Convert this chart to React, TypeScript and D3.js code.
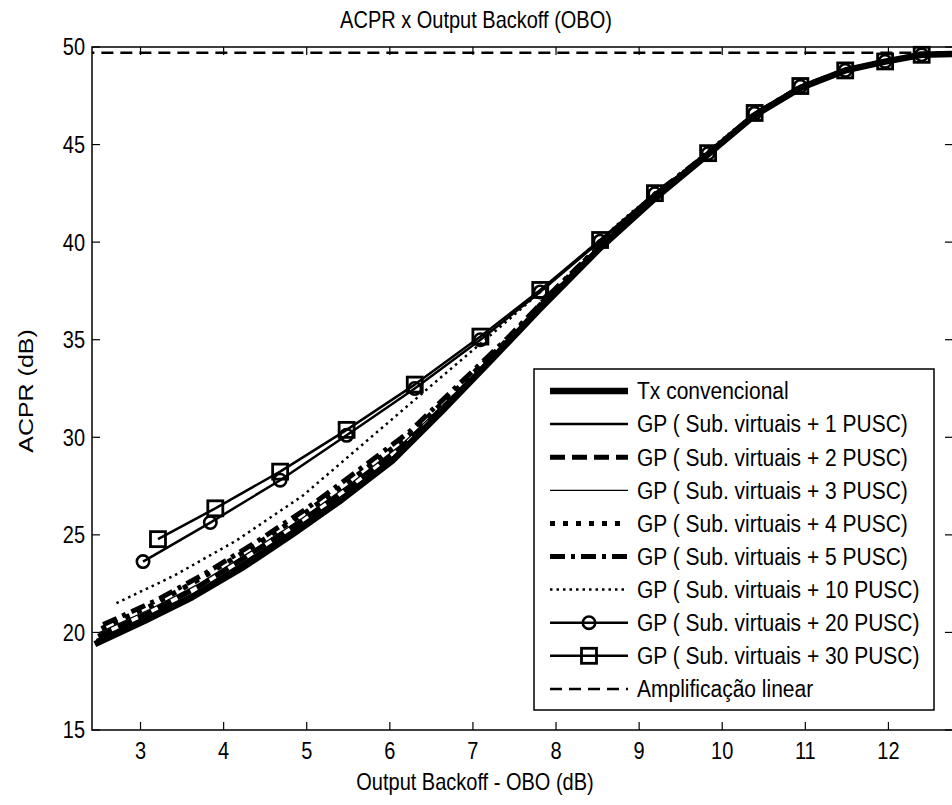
import React from 'react';
import * as d3 from 'd3';

const W = 952;
const H = 805;

const titleText = 'ACPR x Output Backoff (OBO)';
const xLabelText = 'Output Backoff - OBO (dB)';
const yLabelText = 'ACPR (dB)';

const xTicks = [3, 4, 5, 6, 7, 8, 9, 10, 11, 12];
const yTicks = [15, 20, 25, 30, 35, 40, 45, 50];
const xDomain = [2.416, 12.777];
const yDomain = [15, 50];

const seriesNames = [
  'Tx convencional',
  'GP ( Sub. virtuais + 1 PUSC)',
  'GP ( Sub. virtuais + 2 PUSC)',
  'GP ( Sub. virtuais + 3 PUSC)',
  'GP ( Sub. virtuais + 4 PUSC)',
  'GP ( Sub. virtuais + 5 PUSC)',
  'GP ( Sub. virtuais + 10 PUSC)',
  'GP ( Sub. virtuais + 20 PUSC)',
  'GP ( Sub. virtuais + 30 PUSC)',
  'Amplificação linear',
];

const oboTx = [2.45, 3.05, 3.62, 4.22, 4.82, 5.42, 6.03, 6.63, 7.23, 7.81, 8.53, 9.19, 9.83, 10.39, 10.94, 11.48, 11.96, 12.4, 12.9];
const acprTx = [19.4, 20.6, 21.8, 23.3, 25.0, 26.8, 28.8, 31.35, 34.0, 36.6, 39.7, 42.25, 44.5, 46.5, 47.9, 48.8, 49.25, 49.6, 49.66];

const obo1 = [2.47, 3.07, 3.65, 4.25, 4.86, 5.47, 6.08, 6.68, 7.27, 7.83, 8.54, 9.19, 9.83, 10.39, 10.94, 11.48, 11.96, 12.4, 12.9];
const acpr1 = [19.6, 20.8, 22.0, 23.6, 25.3, 27.1, 29.1, 31.55, 34.2, 36.75, 39.75, 42.3, 44.5, 46.5, 47.9, 48.8, 49.25, 49.6, 49.66];

const obo2 = [2.49, 3.1, 3.68, 4.28, 4.9, 5.51, 6.12, 6.72, 7.31, 7.85, 8.55, 9.2, 9.83, 10.39, 10.94, 11.48, 11.96, 12.4, 12.9];
const acpr2 = [19.8, 21.0, 22.3, 23.9, 25.6, 27.4, 29.4, 31.85, 34.4, 36.9, 39.8, 42.35, 44.5, 46.5, 47.9, 48.8, 49.25, 49.6, 49.66];

const obo3 = [2.51, 3.12, 3.71, 4.31, 4.93, 5.55, 6.16, 6.76, 7.34, 7.87, 8.55, 9.2, 9.83, 10.39, 10.94, 11.48, 11.96, 12.4, 12.9];
const acpr3 = [20.0, 21.2, 22.5, 24.1, 25.8, 27.7, 29.7, 32.15, 34.6, 37.05, 39.85, 42.4, 44.5, 46.5, 47.9, 48.8, 49.25, 49.6, 49.66];

const obo4 = [2.53, 3.14, 3.74, 4.35, 4.97, 5.59, 6.2, 6.8, 7.38, 7.9, 8.56, 9.2, 9.83, 10.39, 10.94, 11.48, 11.96, 12.4, 12.9];
const acpr4 = [20.2, 21.4, 22.8, 24.4, 26.1, 28.0, 30.0, 32.45, 34.85, 37.2, 39.95, 42.45, 44.5, 46.5, 47.9, 48.8, 49.25, 49.6, 49.66];

const obo5 = [2.55, 3.17, 3.77, 4.38, 5.0, 5.62, 6.24, 6.84, 7.42, 7.93, 8.57, 9.2, 9.83, 10.39, 10.94, 11.48, 11.96, 12.4, 12.9];
const acpr5 = [20.4, 21.6, 23.0, 24.6, 26.35, 28.3, 30.3, 32.75, 35.1, 37.35, 40.0, 42.5, 44.55, 46.55, 47.95, 48.8, 49.25, 49.6, 49.66];

const obo10 = [2.71, 3.4, 4.15, 4.95, 5.8, 6.65, 7.45, 8.2, 8.9, 9.55, 10.15, 10.7, 11.25, 11.75, 12.2, 12.6, 12.9];
const acpr10 = [21.5, 22.9, 24.7, 27.0, 30.1, 33.2, 36.1, 38.9, 41.5, 43.7, 45.8, 47.4, 48.5, 49.1, 49.45, 49.62, 49.67];

const obo20 = [3.03, 3.84, 4.68, 5.48, 6.3, 7.09, 7.81, 8.53, 9.19, 9.83, 10.39, 10.94, 11.48, 11.96, 12.4, 12.9];
const acpr20 = [23.63, 25.63, 27.8, 30.1, 32.5, 35.0, 37.45, 40.05, 42.48, 44.54, 46.6, 47.98, 48.8, 49.26, 49.6, 49.66];

const obo30 = [3.21, 3.9, 4.68, 5.48, 6.3, 7.09, 7.81, 8.53, 9.19, 9.83, 10.39, 10.94, 11.48, 11.96, 12.4, 12.9];
const acpr30 = [24.78, 26.36, 28.24, 30.38, 32.7, 35.16, 37.55, 40.11, 42.51, 44.56, 46.62, 48.0, 48.8, 49.26, 49.6, 49.66];

const oboLinear = [2.3, 13.0];
const acprLinear = [49.7, 49.7];

const seriesX = [oboTx, obo1, obo2, obo3, obo4, obo5, obo10, obo20, obo30, oboLinear];
const seriesY = [acprTx, acpr1, acpr2, acpr3, acpr4, acpr5, acpr10, acpr20, acpr30, acprLinear];

type Style = { w: number; dash?: string; marker?: 'circle' | 'square' };
const styles: Style[] = [
  { w: 6.5 },
  { w: 2.5 },
  { w: 5, dash: '15,7' },
  { w: 1.3 },
  { w: 5, dash: '5,8' },
  { w: 5, dash: '15,6,4,6' },
  { w: 2.5, dash: '2.5,4' },
  { w: 2.5, marker: 'circle' },
  { w: 2.5, marker: 'square' },
  { w: 2.5, dash: '12,7' },
];

const FONT = '"Liberation Sans", Arial, sans-serif';
const SY = 1.2; // vertical glyph stretch seen in the reference

const M = { left: 92, right: 953, top: 47, bottom: 730 };

function Marker({ type, cx, cy }: { type?: 'circle' | 'square'; cx: number; cy: number }) {
  if (type === 'circle') return <circle cx={cx} cy={cy} r={6.2} fill="none" stroke="#000" strokeWidth={2.6} />;
  if (type === 'square') return <rect x={cx - 7.5} y={cy - 7.5} width={15} height={15} fill="none" stroke="#000" strokeWidth={2.8} />;
  return null;
}

function T({ x, y, s = SY, anchor = 'start', size = 20, dy, children }: any) {
  return (
    <text transform={`translate(${x},${y}) scale(1,${s})`} textAnchor={anchor} fontSize={size} dy={dy}>
      {children}
    </text>
  );
}

export default function App() {
  const x = d3.scaleLinear().domain(xDomain).range([M.left, M.right]);
  const y = d3.scaleLinear().domain(yDomain).range([M.bottom, M.top]);
  const tick = 8;

  const legX = 534, legY = 369, legW = 400, legH = 341;
  const rowY0 = 391, rowDy = 33.1;

  return (
    <svg width={W} height={H} style={{ position: 'absolute', left: 0, top: 0, background: '#fff' }} fontFamily={FONT}>
      <rect x={0} y={0} width={W} height={H} fill="#fff" />
      <defs>
        <clipPath id="plotclip">
          <rect x={M.left} y={M.top - 10} width={M.right - M.left} height={M.bottom - M.top + 10} />
        </clipPath>
      </defs>
      <T x={476} y={28} anchor="middle">{titleText}</T>

      <g clipPath="url(#plotclip)">
        {seriesX.map((xs, i) => {
          const ys = seriesY[i];
          const pts = xs.map((v, k) => [x(v), y(ys[k])] as [number, number]);
          const line = d3.line()(pts) || '';
          const s = styles[i];
          return (
            <g key={i}>
              <path d={line} fill="none" stroke="#000" strokeWidth={s.w} strokeDasharray={s.dash} strokeLinejoin="round" />
              {s.marker && pts.map((p, k) => <Marker key={k} type={s.marker} cx={p[0]} cy={p[1]} />)}
            </g>
          );
        })}
      </g>

      {/* frame */}
      <rect x={M.left} y={M.top} width={M.right - M.left} height={M.bottom - M.top} fill="none" stroke="#000" strokeWidth={1.5} />
      {xTicks.map((t) => (
        <g key={'xt' + t}>
          <line x1={x(t)} x2={x(t)} y1={M.bottom} y2={M.bottom - tick} stroke="#000" strokeWidth={1.2} />
          <line x1={x(t)} x2={x(t)} y1={M.top} y2={M.top + tick} stroke="#000" strokeWidth={1.2} />
          <T x={x(t)} y={759} anchor="middle">{t}</T>
        </g>
      ))}
      {yTicks.map((t) => (
        <g key={'yt' + t}>
          <line x1={M.left} x2={M.left + tick} y1={y(t)} y2={y(t)} stroke="#000" strokeWidth={1.2} />
          <line x1={M.right} x2={M.right - tick} y1={y(t)} y2={y(t)} stroke="#000" strokeWidth={1.2} />
          <T x={85} y={y(t)} dy="0.35em" anchor="end">{t}</T>
        </g>
      ))}
      <T x={475} y={790} anchor="middle">{xLabelText}</T>
      <text transform={`translate(33,391) scale(1,1.25) rotate(-90)`} textAnchor="middle" fontSize={20}>{yLabelText}</text>

      {/* legend */}
      <rect x={legX} y={legY} width={legW} height={legH} fill="#fff" stroke="#000" strokeWidth={1.5} />
      {seriesNames.map((n, i) => {
        const cy = rowY0 + i * rowDy;
        const s = styles[i];
        return (
          <g key={'lg' + i}>
            <line x1={550} x2={628} y1={cy} y2={cy} stroke="#000" strokeWidth={s.w} strokeDasharray={s.dash} />
            {s.marker && <Marker type={s.marker} cx={589} cy={cy} />}
            <T x={637} y={cy} dy="0.36em" size={21} s={1.1}>{n}</T>
          </g>
        );
      })}
    </svg>
  );
}
